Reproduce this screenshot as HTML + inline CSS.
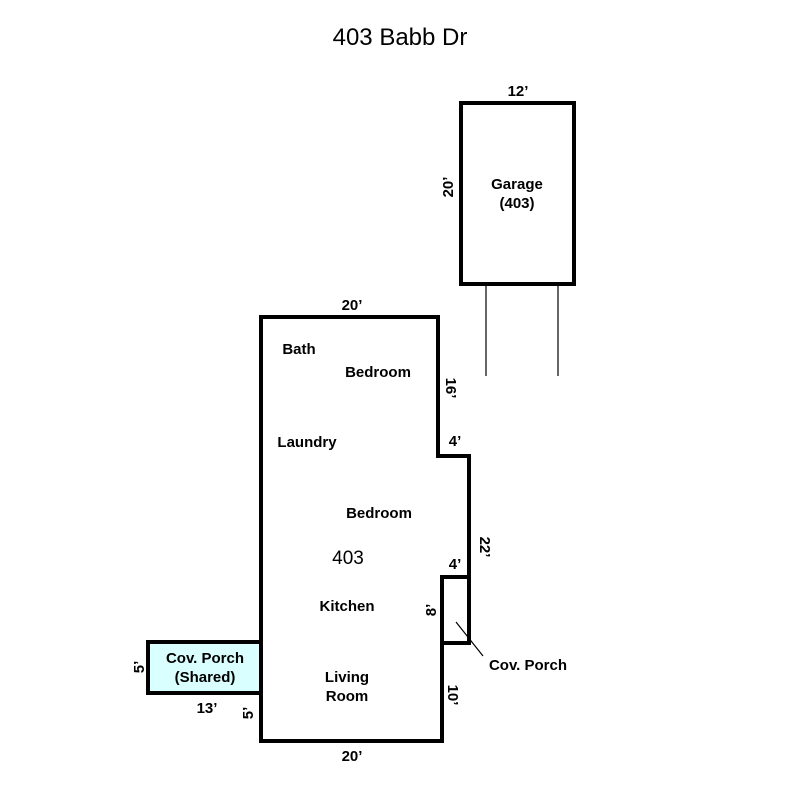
<!DOCTYPE html>
<html><head><style>
body{margin:0;background:#fff}
svg text{font-family:"Liberation Sans",sans-serif;font-size:15px;fill:#000}
</style></head><body>
<svg width="800" height="800" viewBox="0 0 800 800" xmlns="http://www.w3.org/2000/svg">
<rect width="800" height="800" fill="#fff"/>
<text x="400" y="45" text-anchor="middle" style="font-size:24px">403 Babb Dr</text>
<g fill="none" stroke="#000" stroke-width="4">
<rect x="461" y="103" width="113" height="181"/>
<path d="M261 317 H438 V456 H469 V643 H442 V741 H261 Z"/>
<rect x="442" y="577" width="27" height="66"/>
<rect x="148" y="642" width="113" height="51" fill="#d9ffff"/>
</g>
<g stroke="#000" stroke-width="1.2">
<line x1="486" y1="284" x2="486" y2="376"/>
<line x1="558" y1="284" x2="558" y2="376"/>
<line x1="456" y1="622" x2="483" y2="656"/>
</g>
<g text-anchor="middle" font-weight="600">
<text x="518" y="96">12’</text>
<text x="517" y="189">Garage</text>
<text x="517" y="208">(403)</text>
<text x="352" y="310">20’</text>
<text x="299" y="354">Bath</text>
<text x="378" y="377">Bedroom</text>
<text x="307" y="447">Laundry</text>
<text x="455" y="446">4’</text>
<text x="379" y="518">Bedroom</text>
<text x="348" y="564" style="font-size:19px" font-weight="normal">403</text>
<text x="455" y="569">4’</text>
<text x="347" y="611">Kitchen</text>
<text x="528" y="670">Cov. Porch</text>
<text x="205" y="663">Cov. Porch</text>
<text x="205" y="682">(Shared)</text>
<text x="347" y="682">Living</text>
<text x="347" y="701">Room</text>
<text x="207" y="713">13’</text>
<text x="352" y="761">20’</text>
<text transform="translate(453,187) rotate(-90)">20’</text>
<text transform="translate(446,388) rotate(90)">16’</text>
<text transform="translate(480,547) rotate(90)">22’</text>
<text transform="translate(436,610) rotate(-90)">8’</text>
<text transform="translate(448,695) rotate(90)">10’</text>
<text transform="translate(144,667) rotate(-90)">5’</text>
<text transform="translate(253,713) rotate(-90)">5’</text>
</g>
</svg>
</body></html>
